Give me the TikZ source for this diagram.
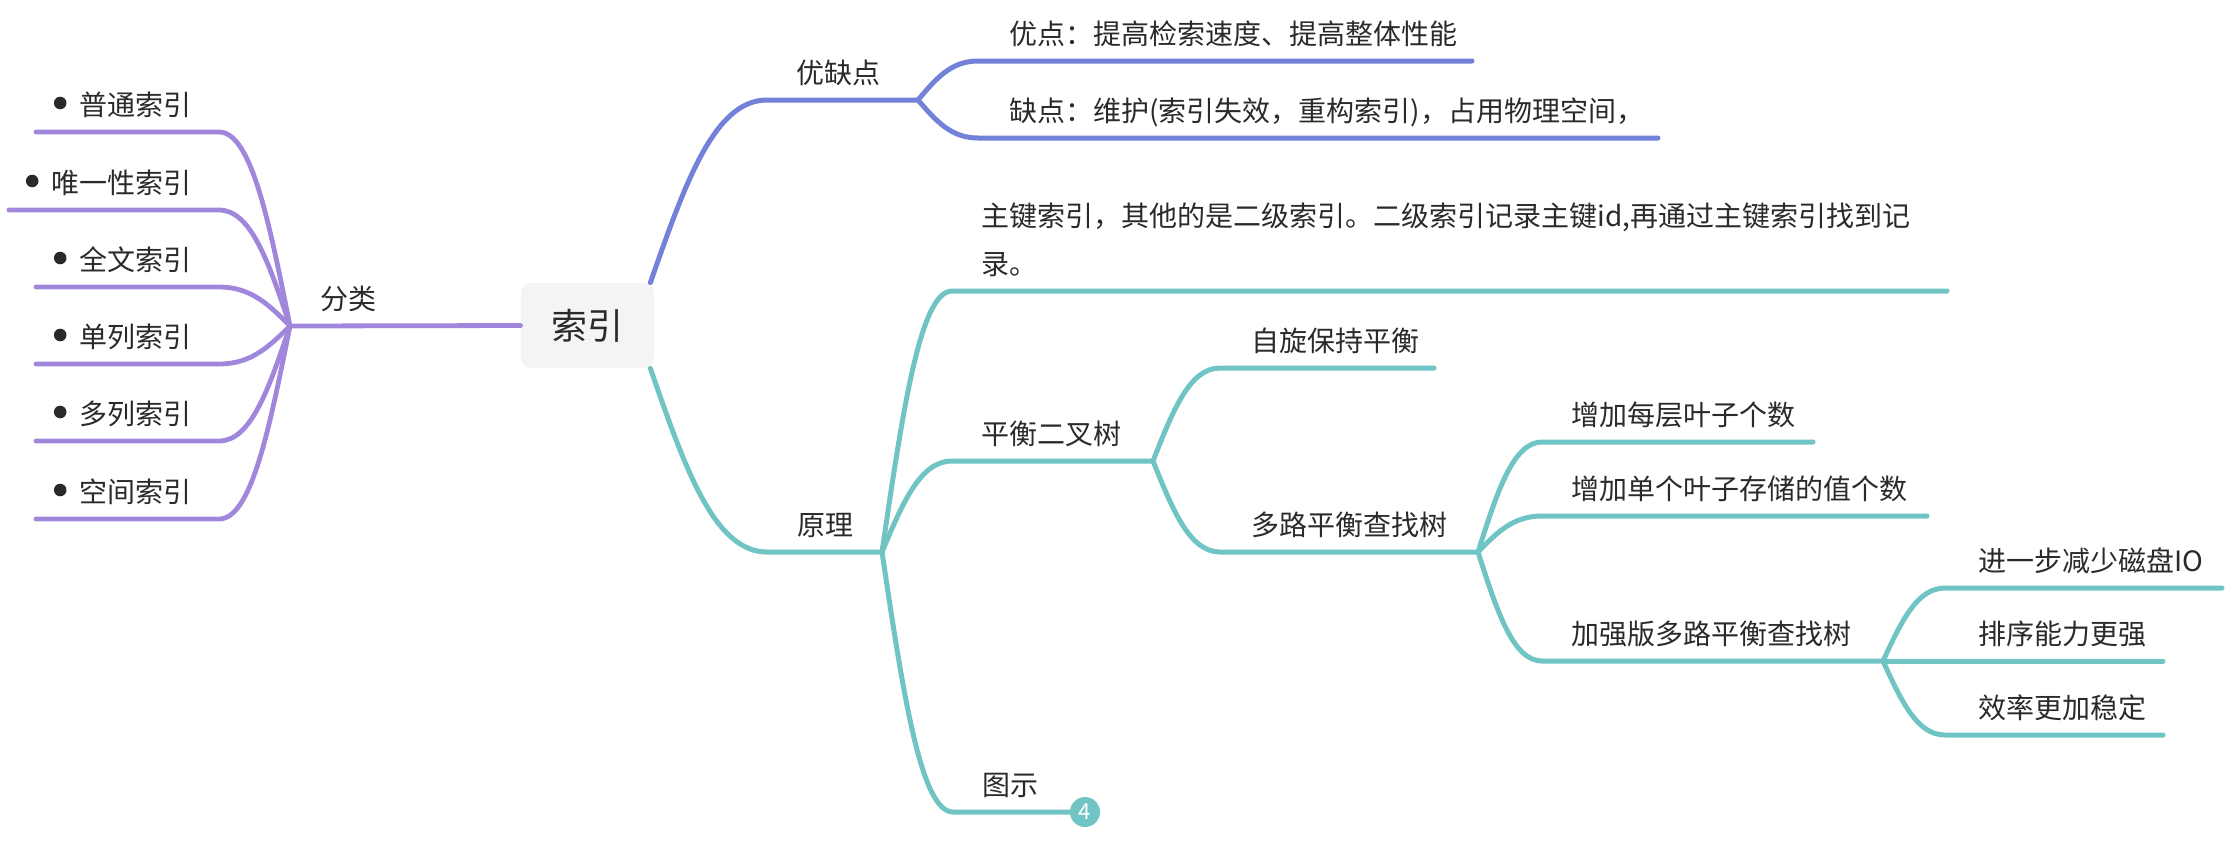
\documentclass[tikz,border=0pt]{standalone}
\usepackage{fontspec}
\setmainfont{Noto Sans CJK SC}
\usetikzlibrary{calc}
\definecolor{pur}{HTML}{A087DC}
\definecolor{blu}{HTML}{7382D8}
\definecolor{tea}{HTML}{70C4C3}
\definecolor{txc}{HTML}{2A2A2A}
\definecolor{rootfill}{HTML}{F4F4F4}
\newcommand\mmbranch[4]{\draw[#1] let \p1=(#2), \p2=(#3) in (#2) .. controls ({\x1+0.3*(\x2-\x1)},{\y1+0.55*(\y2-\y1)}) and ({\x2-0.45*(\x2-\x1)},{\y2}) .. (#3) -- (#4);}
\begin{document}
\begin{tikzpicture}[x=0.5pt,y=-0.5pt,
  lp/.style={draw=pur, line width=2.4pt, line cap=round, line join=round},
  lb/.style={draw=blu, line width=2.5pt, line cap=round, line join=round},
  lt/.style={draw=tea, line width=2.5pt, line cap=round, line join=round},
  tx/.style={anchor=base west, inner sep=0pt, text=txc, font=\fontsize{14pt}{24pt}\selectfont},
  txr/.style={tx, anchor=base east},
  bul/.style={circle, fill=txc, inner sep=0pt, minimum size=6.3pt},
  rootbox/.style={fill=rootfill, rounded corners=5pt, minimum width=66.5pt, minimum height=42.5pt, inner sep=0pt, text=txc, font=\fontsize{18pt}{18pt}\selectfont},
  badgest/.style={circle, fill=tea, inner sep=0pt, minimum size=15pt, text=white, font=\fontsize{11pt}{11pt}\selectfont}]
\useasboundingbox (0,0) rectangle (2232,848);

% root
\node[rootbox] (root) at (587.5,325.5) {索引};
\coordinate (rne) at ($(root.north east)+(-4,0)$);
\coordinate (rse) at ($(root.south east)+(-4,0)$);

% ---------- left: 分类 ----------
\coordinate (fl) at (290,326);
\draw[lp] (root.west) -- (fl);
\node[tx] (fenlei) at (320,309) {分类};

\coordinate (c1) at (219,132); \coordinate (e1) at (36,132);
\coordinate (c2) at (219,210); \coordinate (e2) at (9,210);
\coordinate (c3) at (219,287); \coordinate (e3) at (36,287);
\coordinate (c4) at (219,364); \coordinate (e4) at (36,364);
\coordinate (c5) at (219,441); \coordinate (e5) at (36,441);
\coordinate (c6) at (219,519); \coordinate (e6) at (36,519);
\mmbranch{lp}{fl}{c1}{e1}
\mmbranch{lp}{fl}{c2}{e2}
\mmbranch{lp}{fl}{c3}{e3}
\mmbranch{lp}{fl}{c4}{e4}
\mmbranch{lp}{fl}{c5}{e5}
\mmbranch{lp}{fl}{c6}{e6}
\node[txr] (t1) at (192,115) {普通索引};
\node[txr] (t2) at (192,193) {唯一性索引};
\node[txr] (t3) at (192,270) {全文索引};
\node[txr] (t4) at (192,347) {单列索引};
\node[txr] (t5) at (192,424) {多列索引};
\node[txr] (t6) at (192,502) {空间索引};
\node[bul] (b1) at ($(t1.base west)+(-19,-12)$) {};
\node[bul] (b2) at ($(t2.base west)+(-19,-12)$) {};
\node[bul] (b3) at ($(t3.base west)+(-19,-12)$) {};
\node[bul] (b4) at ($(t4.base west)+(-19,-12)$) {};
\node[bul] (b5) at ($(t5.base west)+(-19,-12)$) {};
\node[bul] (b6) at ($(t6.base west)+(-19,-12)$) {};

% ---------- blue: 优缺点 ----------
\coordinate (yqc) at (767,100);
\coordinate (yq) at (918,100);
\mmbranch{lb}{rne}{yqc}{yq}
\node[tx] (yqt) at (796,83) {优缺点};
\coordinate (ydc) at (978,61); \coordinate (yde) at (1472,61);
\coordinate (qdc) at (978,138); \coordinate (qde) at (1658,138);
\mmbranch{lb}{yq}{ydc}{yde}
\mmbranch{lb}{yq}{qdc}{qde}
\node[tx] (ydt) at (1009,44) {优点：提高检索速度、提高整体性能};
\node[tx] (qdt) at (1009,121) {缺点：维护(索引失效，重构索引)，占用物理空间，};

% ---------- teal: 原理 ----------
\coordinate (ylc) at (767,552);
\coordinate (yl) at (882,552);
\mmbranch{lt}{rse}{ylc}{yl}
\node[tx] (ylt) at (797,535) {原理};

\coordinate (zjc) at (952,291); \coordinate (zje) at (1947,291);
\mmbranch{lt}{yl}{zjc}{zje}
\node[tx, align=left] (zjt) at (981,274) {主键索引，其他的是二级索引。二级索引记录主键id,再通过主键索引找到记\\录。};

\coordinate (phc) at (952,461); \coordinate (ph) at (1153,461);
\mmbranch{lt}{yl}{phc}{ph}
\node[tx] (pht) at (981,444) {平衡二叉树};

\coordinate (tsc) at (953,812); \coordinate (tse) at (1085,812);
\mmbranch{lt}{yl}{tsc}{tse}
\node[tx] (tst) at (982,795) {图示};
\node[badgest] (badge) at (tse) {4};

\coordinate (zxc) at (1220,368); \coordinate (zxe) at (1434,368);
\mmbranch{lt}{ph}{zxc}{zxe}
\node[tx] (zxt) at (1251,351) {自旋保持平衡};

\coordinate (dlc) at (1220,552); \coordinate (dl) at (1478,552);
\mmbranch{lt}{ph}{dlc}{dl}
\node[tx] (dlt) at (1251,535) {多路平衡查找树};

\coordinate (m1c) at (1542,442); \coordinate (m1e) at (1813,442);
\coordinate (m2c) at (1542,516); \coordinate (m2e) at (1927,516);
\coordinate (jqc) at (1542,661); \coordinate (jq) at (1883,661);
\mmbranch{lt}{dl}{m1c}{m1e}
\mmbranch{lt}{dl}{m2c}{m2e}
\mmbranch{lt}{dl}{jqc}{jq}
\node[tx] (m1t) at (1571,425) {增加每层叶子个数};
\node[tx] (m2t) at (1571,499) {增加单个叶子存储的值个数};
\node[tx] (jqt) at (1571,644) {加强版多路平衡查找树};

\coordinate (n1c) at (1945,588); \coordinate (n1e) at (2222,588);
\coordinate (n2c) at (1945,661); \coordinate (n2e) at (2163,661);
\coordinate (n3c) at (1945,735); \coordinate (n3e) at (2163,735);
\mmbranch{lt}{jq}{n1c}{n1e}
\mmbranch{lt}{jq}{n2c}{n2e}
\mmbranch{lt}{jq}{n3c}{n3e}
\node[tx] (n1t) at (1978,571) {进一步减少磁盘IO};
\node[tx] (n2t) at (1978,644) {排序能力更强};
\node[tx] (n3t) at (1978,718) {效率更加稳定};
\end{tikzpicture}
\end{document}
